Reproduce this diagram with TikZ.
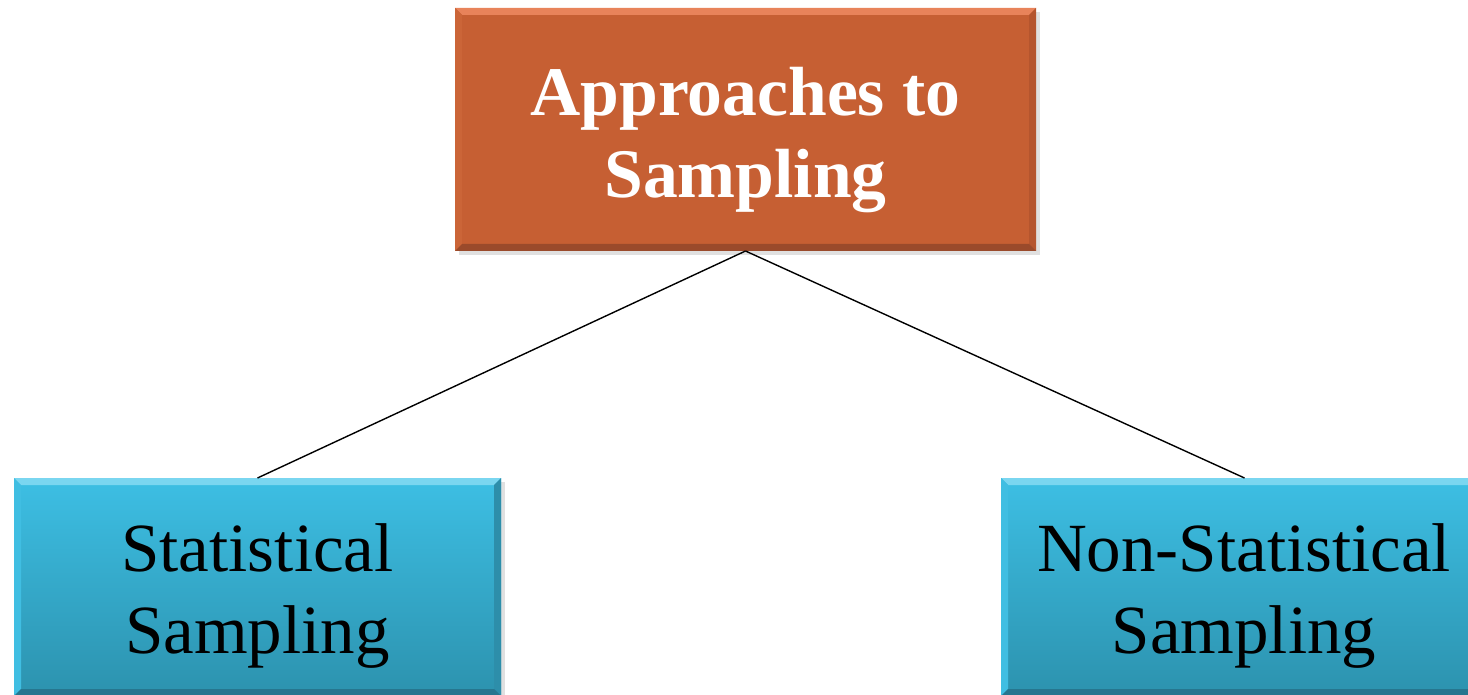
\documentclass[tikz,border=0pt]{standalone}
\usepackage{fontspec}
\setmainfont{Liberation Serif}
\usetikzlibrary{calc}
\definecolor{orangeM}{HTML}{C65F33}
\definecolor{orangeL}{HTML}{E8835A}
\definecolor{orangeS}{HTML}{CB6538}
\definecolor{orangeD}{HTML}{9A4A2B}
\definecolor{orangeR}{HTML}{B5552E}
\definecolor{cyanT}{HTML}{3DBFE4}
\definecolor{cyanB}{HTML}{2C92AE}
\definecolor{cyanL}{HTML}{7AD6F0}
\definecolor{cyanS}{HTML}{40BEE2}
\definecolor{cyanD}{HTML}{26768F}
\definecolor{cyanR}{HTML}{2D8EAA}
\newcommand\mybevel[5]{%
  \fill[#2] (#1.north west) -- (#1.north east) -- ($(#1.north east)+(-7,7)$) -- ($(#1.north west)+(7,7)$) -- cycle;
  \fill[#3] (#1.north west) -- ($(#1.north west)+(7,7)$) -- ($(#1.south west)+(7,-7)$) -- (#1.south west) -- cycle;
  \fill[#4] (#1.north east) -- ($(#1.north east)+(-7,7)$) -- ($(#1.south east)+(-7,-7)$) -- (#1.south east) -- cycle;
  \fill[#5] (#1.south west) -- ($(#1.south west)+(7,-7)$) -- ($(#1.south east)+(-7,-7)$) -- (#1.south east) -- cycle;
}
\begin{document}
\begin{tikzpicture}[x=0.5pt,y=-0.5pt,
  boxbase/.style={rectangle, inner sep=0pt, outer sep=0pt},
  topbox/.style={boxbase, fill=orangeM, minimum width=290.5pt, minimum height=121.5pt},
  lowbox/.style={boxbase, top color=cyanT, bottom color=cyanB, minimum width=243.5pt, minimum height=109pt},
  shadowbox/.style={boxbase, fill=black!12},
  toptext/.style={inner sep=0pt, align=center, text=white, font=\bfseries\fontsize{34.8}{41}\selectfont},
  lowtext/.style={inner sep=0pt, align=center, text=black, font=\fontsize{34.5}{41}\selectfont},
  link/.style={draw=black, line width=0.7pt}]
\useasboundingbox (0,0) rectangle (1468,695);
\clip (0,0) rectangle (1468,695);
% shadows
\node[shadowbox, minimum width=290.5pt, minimum height=121.5pt] (topsh) at (749,134) {};
\node[shadowbox, minimum width=243.5pt, minimum height=109pt] (leftsh) at (261,591) {};
\node[shadowbox, minimum width=243.5pt, minimum height=109pt] (rightsh) at (1248,591) {};
% boxes
\node[topbox] (top) at (745.5,129.5) {};
\node[lowbox] (left) at (257.5,587) {};
\node[lowbox] (right) at (1244.5,587) {};
\mybevel{top}{orangeL}{orangeS}{orangeR}{orangeD}
\mybevel{left}{cyanL}{cyanS}{cyanR}{cyanD}
\mybevel{right}{cyanL}{cyanS}{cyanR}{cyanD}
% texts
\node[toptext] (toptxt) at (745.5,140.5) {Approaches to\\Sampling};
\node[lowtext] (lefttxt) at (257.5,596) {Statistical\\Sampling};
\node[lowtext] (righttxt) at (1244,596) {Non-Statistical\\Sampling};
% connectors
\draw[link] (top.south) -- (left.north);
\draw[link] (top.south) -- (right.north);
\end{tikzpicture}
\end{document}
